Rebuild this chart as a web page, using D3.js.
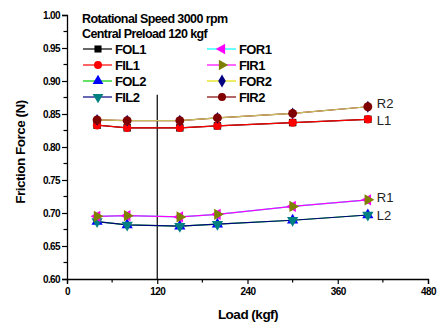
<!DOCTYPE html>
<html><head><meta charset="utf-8">
<script src="https://cdn.jsdelivr.net/npm/d3@7"></script>
<style>body{margin:0;background:#fff}svg{display:block}text{font-family:"Liberation Sans",Arial,sans-serif}</style>
</head><body><svg id="c" width="437" height="327"></svg>
<script>
const loads = [40, 80, 150, 200, 300, 400];
const FOL1 = [0.833, 0.829, 0.829, 0.832, 0.837, 0.842];
const FIL1 = [0.833, 0.829, 0.829, 0.832, 0.837, 0.842];
const FOL2 = [0.687, 0.682, 0.680, 0.683, 0.689, 0.697];
const FIL2 = [0.687, 0.682, 0.680, 0.683, 0.689, 0.697];
const FOR1 = [0.695, 0.696, 0.694, 0.698, 0.710, 0.720];
const FIR1 = [0.695, 0.696, 0.694, 0.698, 0.710, 0.720];
const FOR2 = [0.841, 0.840, 0.840, 0.844, 0.851, 0.861];
const FIR2 = [0.841, 0.840, 0.840, 0.844, 0.851, 0.861];
const xTicks = [0, 120, 240, 360, 480];
const yTicks = [0.60, 0.65, 0.70, 0.75, 0.80, 0.85, 0.90, 0.95, 1.00];
const refLine = {x: 120, y0: 0.60, y1: 0.879};
const endLabels = ["R2", "L1", "R1", "L2"];
const endLabelSeries = [FIR2, FIL1, FIR1, FIL2];

const series = [
  {name:"FOL1", data:FOL1, line:"#000000", fill:"#000000", sym:d3.symbolSquare, size:55},
  {name:"FIL1", data:FIL1, line:"#ff0000", fill:"#ff0000", sym:d3.symbolCircle, size:55},
  {name:"FOL2", data:FOL2, line:"#00cc00", fill:"#0000ff", sym:d3.symbolTriangle, size:55},
  {name:"FIL2", data:FIL2, line:"#000080", fill:"#008080", sym:"down", size:55},
  {name:"FOR1", data:FOR1, line:"#00ffff", fill:"#ff00ff", sym:"left", size:55},
  {name:"FIR1", data:FIR1, line:"#ff00ff", fill:"#808000", sym:"right", size:55},
  {name:"FOR2", data:FOR2, line:"#e0e000", fill:"#000080", sym:d3.symbolDiamond, size:40},
  {name:"FIR2", data:FIR2, line:"#800000", fill:"#800000", sym:d3.symbolCircle, size:62}
];

const svg = d3.select("#c");
const x = d3.scaleLinear().domain([0, 480]).range([67, 428]);
const y = d3.scaleLinear().domain([0.60, 1.00]).range([279, 15]);

function marker(sym, size){
  const tri = d3.symbol().type(d3.symbolTriangle).size(size)();
  if (sym === "down") return {d: tri, rot: 180};
  if (sym === "left") return {d: tri, rot: -90};
  if (sym === "right") return {d: tri, rot: 90};
  return {d: d3.symbol().type(sym).size(size)(), rot: 0};
}

// axes
const xAxis = d3.axisBottom(x).tickValues(xTicks).tickFormat(d3.format("d")).tickSize(5);
const gx = svg.append("g").attr("transform", "translate(0,279)").call(xAxis);
const yAxis = d3.axisLeft(y).tickValues(yTicks).tickFormat(d3.format(".2f")).tickSize(5);
const gy = svg.append("g").attr("transform", "translate(67,0)").call(yAxis);
[gx, gy].forEach(g => {
  g.select(".domain").attr("stroke", "#000").attr("stroke-width", 1.3);
  g.selectAll(".tick line").attr("stroke", "#000").attr("stroke-width", 1.2);
  g.selectAll("text").attr("font-size", 10).attr("font-weight", "bold").attr("fill", "#000")
    .attr("letter-spacing", "-0.6").style("font-family", "Liberation Sans, Arial, sans-serif");
});
gy.selectAll("text").attr("x", -7);
gx.selectAll("text").attr("y", 9);
// minor ticks
const xMinor = d3.range(60, 480, 120);
svg.append("g").selectAll("line").data(xMinor).join("line")
  .attr("x1", d => x(d)).attr("x2", d => x(d)).attr("y1", 279).attr("y2", 282.5)
  .attr("stroke", "#000").attr("stroke-width", 1.2);
const yMinor = d3.range(0.625, 1.0, 0.05);
svg.append("g").selectAll("line").data(yMinor).join("line")
  .attr("x1", 63.5).attr("x2", 67).attr("y1", d => y(d)).attr("y2", d => y(d))
  .attr("stroke", "#000").attr("stroke-width", 1.2);

// axis titles
svg.append("text").attr("x", 248).attr("y", 319).attr("text-anchor", "middle")
  .attr("font-size", 13.5).attr("font-weight", "bold").attr("letter-spacing", "-0.5").text("Load (kgf)");
svg.append("text").attr("transform", "translate(25,152) rotate(-90)").attr("text-anchor", "middle")
  .attr("font-size", 13.5).attr("font-weight", "bold").attr("letter-spacing", "-0.5").text("Friction Force (N)");

// reference line
svg.append("line").attr("x1", x(refLine.x)).attr("x2", x(refLine.x))
  .attr("y1", y(refLine.y1)).attr("y2", y(refLine.y0)).attr("stroke", "#000").attr("stroke-width", 1.2);

// lines
const line = d3.line().x((d, i) => x(loads[i])).y(d => y(d));
const lineOrder = [0,1,2,3,4,5,7,6];
lineOrder.forEach(k => {
  const s = series[k];
  svg.append("path").attr("d", line(s.data)).attr("fill", "none")
    .attr("stroke", s.name === "FOR2" ? "#c8c060" : s.line).attr("stroke-width", 1.2);
});
// markers
series.forEach(s => {
  const m = marker(s.sym, s.size);
  svg.append("g").selectAll("path").data(s.data).join("path")
    .attr("d", m.d).attr("fill", s.fill)
    .attr("transform", (d, i) => `translate(${x(loads[i])},${y(d)}) rotate(${m.rot})`);
});
// end labels
const labelDy = [-3, 1, -2, 1];
endLabels.forEach((t, k) => {
  const arr = endLabelSeries[k];
  svg.append("text").attr("x", x(loads[loads.length-1]) + 9).attr("y", y(arr[arr.length-1]) + 4.5 + labelDy[k])
    .attr("font-size", 13).attr("fill", "#222").text(t);
});

// legend
const lg = svg.append("g");
lg.append("text").attr("x", 82).attr("y", 23).attr("font-size", 12.5).attr("font-weight", "bold")
  .attr("letter-spacing", "-0.6").text("Rotational Speed 3000 rpm");
lg.append("text").attr("x", 82).attr("y", 38).attr("font-size", 12.5).attr("font-weight", "bold")
  .attr("letter-spacing", "-0.6").text("Central Preload 120 kgf");
series.forEach((s, i) => {
  const col = Math.floor(i / 4), row = i % 4;
  const lx = col ? 207 : 83, ly = 49 + row * 16;
  lg.append("line").attr("x1", lx).attr("x2", lx + 29).attr("y1", ly).attr("y2", ly)
    .attr("stroke", s.line).attr("stroke-width", 1.2);
  const m = marker(s.sym, 50);
  lg.append("path").attr("d", m.d).attr("fill", s.fill)
    .attr("transform", `translate(${lx + 15},${ly}) rotate(${m.rot})`);
  lg.append("text").attr("x", lx + 32).attr("y", ly + 5).attr("font-size", 13).attr("font-weight", "bold")
    .attr("letter-spacing", "-0.6").text(s.name);
});
</script></body></html>
